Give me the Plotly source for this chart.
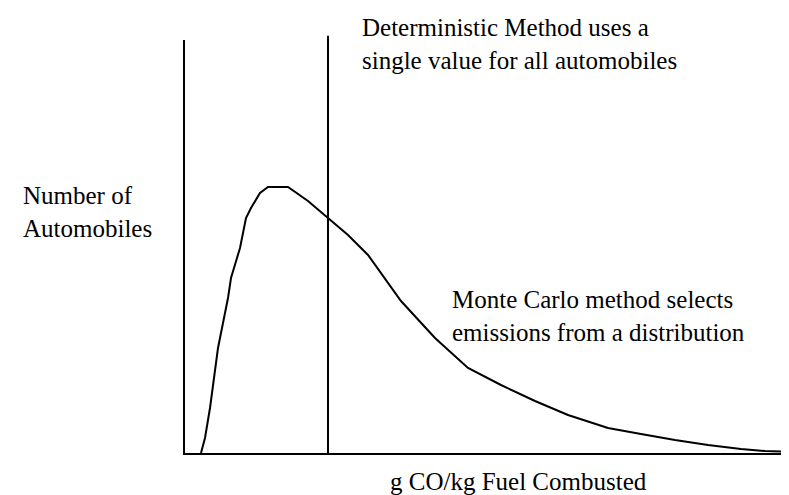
import plotly.graph_objects as go

# Emission factor (arbitrary units along the axis) and relative count of automobiles
emission = [16, 20, 25, 33, 43, 46, 55, 61, 66, 75, 83, 103, 123, 143, 163, 183,
            216, 250, 283, 316, 350, 383, 423, 456, 490, 523, 556, 580, 608]
count = [0, 15, 45, 105, 155, 175, 205, 235, 245, 260, 266, 266, 252, 235, 218, 198,
         152, 115, 85, 68, 52, 38, 25, 19, 13, 8, 4, 2, 1]
deterministic_value = 143

x_range = [0, 612]
y_range = [0, 413]

font_family = "Liberation Serif"

fig = go.Figure()
fig.add_trace(go.Scatter(x=emission, y=count, mode="lines",
                         line=dict(color="black", width=2), hoverinfo="skip",
                         showlegend=False))

fig.add_shape(type="line", xref="x", yref="paper",
              x0=deterministic_value, x1=deterministic_value, y0=0, y1=1.01,
              line=dict(color="black", width=2))

ann_font = dict(family=font_family, size=25, color="black")
fig.add_annotation(text="Deterministic Method uses a<br>single value for all automobiles",
                   xref="paper", yref="paper", x=0.286, y=0.99,
                   xanchor="left", yanchor="middle", align="left",
                   showarrow=False, font=ann_font)
fig.add_annotation(text="Number of<br>Automobiles",
                   xref="paper", yref="paper", x=-0.268, y=0.584,
                   xanchor="left", yanchor="middle", align="left",
                   showarrow=False, font=ann_font)
fig.add_annotation(text="Monte Carlo method selects<br>emissions from a distribution",
                   xref="paper", yref="paper", x=0.433, y=0.332,
                   xanchor="left", yanchor="middle", align="left",
                   showarrow=False, font=ann_font)
fig.add_annotation(text="g CO/kg Fuel Combusted",
                   xref="paper", yref="paper", x=0.332, y=-0.070,
                   xanchor="left", yanchor="middle", align="left",
                   showarrow=False, font=ann_font)

fig.update_layout(
    width=789, height=495,
    margin=dict(l=177, r=0, t=32, b=50),
    paper_bgcolor="white", plot_bgcolor="white",
    font=dict(family=font_family, color="black"),
    xaxis=dict(range=x_range, showgrid=False, zeroline=False, showticklabels=False,
               ticks="", showline=True, linecolor="black", linewidth=2),
    yaxis=dict(range=y_range, showgrid=False, zeroline=False, showticklabels=False,
               ticks="", showline=True, linecolor="black", linewidth=2),
)

fig.write_html("out.html")
